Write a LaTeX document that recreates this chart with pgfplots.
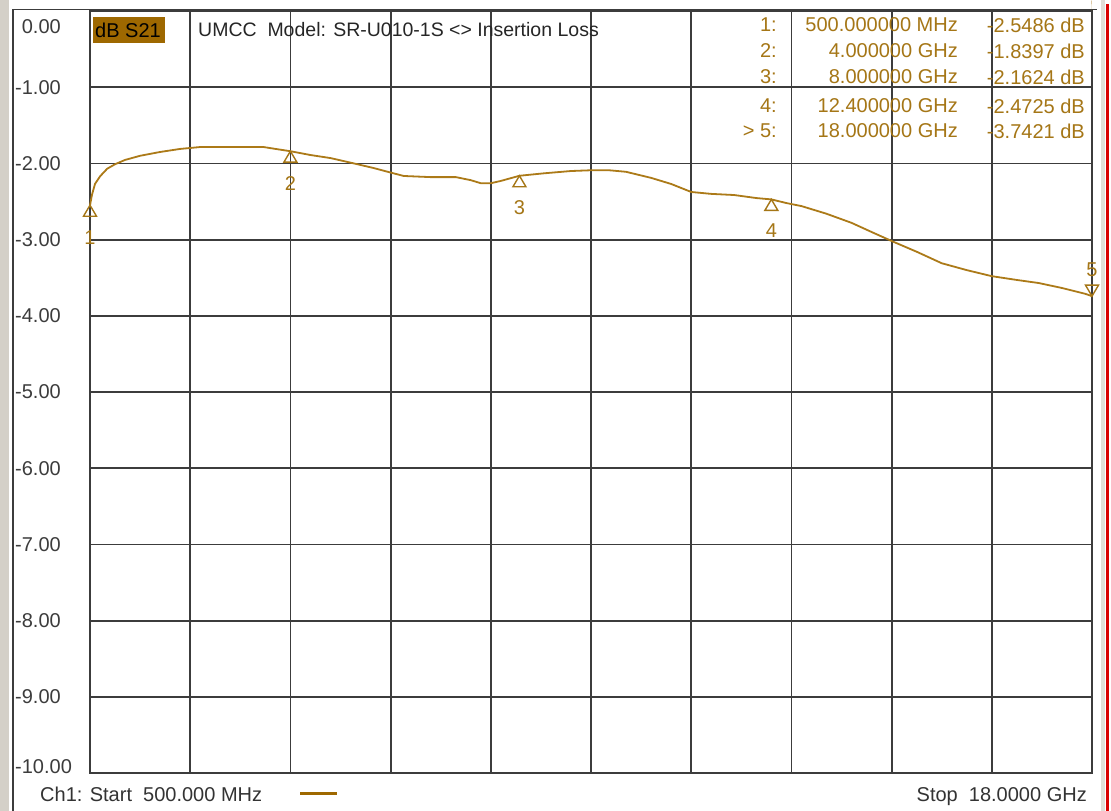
\documentclass[border=0pt]{standalone}
\usepackage{fontspec}
\setmainfont{Liberation Sans}
\usepackage{pgfplots}
\pgfplotsset{compat=1.18}
\definecolor{tracecol}{RGB}{172,122,24}
\definecolor{mcol}{RGB}{165,118,22}
\definecolor{boxcol}{RGB}{158,104,0}
\definecolor{gridcol}{RGB}{60,60,60}
\definecolor{stripcol}{RGB}{212,208,200}
\newcommand\fnt{\fontsize{20}{24}\selectfont}
\pgfdeclareplotmark{mtriup}{%
  \pgfpathmoveto{\pgfpoint{0pt}{0pt}}%
  \pgfpathlineto{\pgfpoint{-6.5pt}{-11pt}}%
  \pgfpathlineto{\pgfpoint{6.5pt}{-11pt}}%
  \pgfpathclose\pgfusepathqstroke}
\pgfdeclareplotmark{mtridown}{%
  \pgfpathmoveto{\pgfpoint{0pt}{0pt}}%
  \pgfpathlineto{\pgfpoint{-6.5pt}{11pt}}%
  \pgfpathlineto{\pgfpoint{6.5pt}{11pt}}%
  \pgfpathclose\pgfusepathqstroke}
\begin{document}
\begin{tikzpicture}[font=\fnt]
\path[use as bounding box, fill=white] (0,0) rectangle (1111pt,-811pt);
% left gray strip and window frame
\fill[stripcol] (0,0) rectangle (9pt,-811pt);
\draw[gridcol, line width=1.8pt] (13pt,-811pt) -- (13pt,-9.5pt) -- (1097pt,-9.5pt);
\fill[stripcol!70!white] (1101pt,0) rectangle (1105pt,-811pt);
\fill[red!85!black] (1106pt,-4pt) rectangle (1109pt,-811pt);
\begin{axis}[
  at={(90pt,-773pt)}, anchor=south west,
  scale only axis, width=1002pt, height=762pt,
  xmin=0.5, xmax=18, ymin=-10, ymax=0,
  xtick={0.5,2.25,4,5.75,7.5,9.25,11,12.75,14.5,16.25,18},
  xticklabels={},
  ytick={0,-1,-2,-3,-4,-5,-6,-7,-8,-9,-10},
  yticklabels={{\raisebox{-22pt}[0pt][0pt]{\phantom{-}0.00}},-1.00,-2.00,-3.00,-4.00,-5.00,-6.00,-7.00,-8.00,-9.00,{\raisebox{0pt}[0pt][0pt]{-10.00}}},
  yticklabel style={anchor=west, inner sep=0pt, xshift=-75pt, font=\fnt, text=gridcol},
  grid=major,
  major grid style={line width=1.8pt, color=gridcol},
  axis line style={line width=1.8pt, color=gridcol},
  major tick length=0pt,
  clip=false,
]
\addplot[no markers, color=tracecol, line width=1.8pt] coordinates {
(0.5,-2.55) (0.535,-2.41) (0.5875,-2.27) (0.675,-2.17) (0.80,-2.07)
(0.94,-2.01) (1.11,-1.955) (1.375,-1.90) (1.725,-1.85) (2.075,-1.81)
(2.425,-1.785) (2.95,-1.785) (3.53,-1.785) (3.74,-1.81) (4.0,-1.84)
(4.35,-1.89) (4.7,-1.93) (5.05,-1.99) (5.45,-2.06) (5.80,-2.13)
(5.98,-2.165) (6.45,-2.18) (6.89,-2.18) (7.15,-2.22) (7.325,-2.26)
(7.5,-2.26) (7.675,-2.23) (8.0,-2.1624) (8.43,-2.13) (8.9,-2.10)
(9.25,-2.09) (9.565,-2.09) (9.86,-2.11) (10.3,-2.19) (10.65,-2.27)
(11.0,-2.375) (11.35,-2.40) (11.75,-2.415) (12.14,-2.455) (12.4,-2.4725)
(12.66,-2.52) (12.925,-2.56) (13.36,-2.66) (13.8,-2.78) (14.15,-2.90)
(14.535,-3.03) (14.94,-3.16) (15.375,-3.31) (15.81,-3.40) (16.25,-3.48)
(16.69,-3.53) (17.07,-3.57) (17.475,-3.635) (17.875,-3.71) (18.0,-3.7421)
};
\addplot[only marks, mark=mtriup, color=mcol, mark options={line width=1.4pt, solid}] coordinates {
(0.5,-2.5486) (4.0,-1.8397) (8.0,-2.1624) (12.4,-2.4725)
};
\addplot[only marks, mark=mtridown, color=mcol, mark options={line width=1.4pt, solid}] coordinates {
(18.0,-3.7421)
};
\node[text=mcol, inner sep=0pt, yshift=-32pt] at (axis cs:0.5,-2.5486) {1};
\node[text=mcol, inner sep=0pt, yshift=-32pt] at (axis cs:4.0,-1.8397) {2};
\node[text=mcol, inner sep=0pt, yshift=-32pt] at (axis cs:8.0,-2.1624) {3};
\node[text=mcol, inner sep=0pt, yshift=-31pt] at (axis cs:12.4,-2.4725) {4};
\node[text=mcol, inner sep=0pt, yshift=26pt] at (axis cs:18.0,-3.7421) {5};
% reference level indicators
\fill[boxcol] (axis cs:0.5,0) ++(-10pt,0) -- ++(10pt,0) -- ++(0,-10pt) -- cycle;
\fill[boxcol] (axis cs:18,0) -- ++(9pt,0) -- ++(-9pt,-10pt) -- cycle;
\end{axis}
% title box and title
\fill[boxcol] (93pt,-17pt) rectangle (165pt,-43pt);
\node[anchor=west, inner sep=0pt, text=black] at (95pt,-30pt) {dB S21};
\node[anchor=west, inner sep=0pt, text=black!85, font=\fontsize{19.5}{24}\selectfont] at (198pt,-30pt) {UMCC\ \ Model: SR-U010-1S <> Insertion Loss};
% marker table
\foreach \y/\a/\b/\c in {25/1:/500.000000 MHz/-2.5486 dB, 51/2:/4.000000 GHz/-1.8397 dB, 77/3:/8.000000 GHz/-2.1624 dB, 106/4:/12.400000 GHz/-2.4725 dB, 131/> 5:/18.000000 GHz/-3.7421 dB}{
  \node[anchor=east, inner sep=0pt, text=mcol] at (777pt,-\y pt) {\a};
  \node[anchor=east, inner sep=0pt, text=mcol] at (958pt,-\y pt) {\b};
  \node[anchor=east, inner sep=0pt, text=mcol] at (1085pt,-\y pt) {\c};
}
% footer
\node[anchor=west, inner sep=0pt, text=black!80] at (40pt,-794pt) {Ch1: Start\ \ 500.000 MHz};
\draw[boxcol, line width=3pt] (300pt,-793pt) -- (337pt,-793pt);
\node[anchor=east, inner sep=0pt, text=black!80] at (1087pt,-797pt) {Stop\ \ 18.0000 GHz};
\end{tikzpicture}
\end{document}
